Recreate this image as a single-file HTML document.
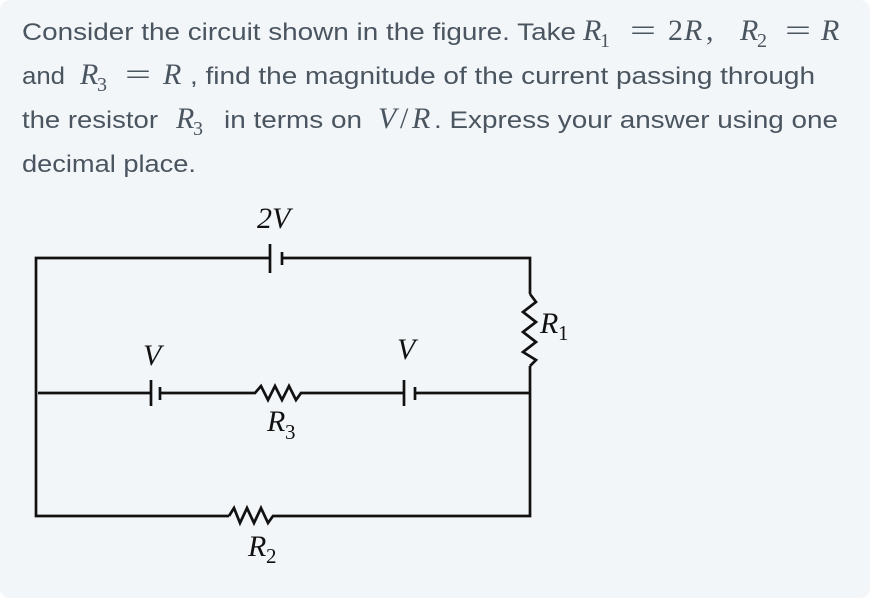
<!DOCTYPE html>
<html><head><style>
html,body{margin:0;padding:0;background:#fff;}
svg{display:block}
.t{font-family:"Liberation Sans",sans-serif;font-size:24px;fill:#4a5560}
.m{font-family:"Liberation Serif",serif;font-size:30px;fill:#4a5560}
.i{font-style:italic}
.s{font-family:"Liberation Serif",serif;font-size:20px;fill:#4a5560}
.l{font-family:"Liberation Serif",serif;font-style:italic;font-size:30px;fill:#111}
.ls{font-family:"Liberation Serif",serif;font-size:21px;fill:#111}
</style></head><body>
<svg width="878" height="606" viewBox="0 0 878 606" xmlns="http://www.w3.org/2000/svg">
<rect x="0" y="0" width="870" height="598" rx="10" fill="#f3f6f9"/>
<text class="t" x="22" y="40" textLength="554" lengthAdjust="spacingAndGlyphs">Consider the circuit shown in the figure. Take</text>
<text class="m i" x="583" y="40">R</text><text class="s" x="600" y="47">1</text>
<text class="m" x="630" y="40" textLength="26" lengthAdjust="spacingAndGlyphs">=</text>
<text class="m" x="668" y="40">2</text><text class="m i" x="684" y="40">R</text><text class="m" x="706" y="40">,</text>
<text class="m i" x="740" y="40">R</text><text class="s" x="757" y="47">2</text>
<text class="m" x="785" y="40" textLength="26" lengthAdjust="spacingAndGlyphs">=</text>
<text class="m i" x="821" y="40">R</text>

<text class="t" x="22" y="84" textLength="43" lengthAdjust="spacingAndGlyphs">and</text>
<text class="m i" x="80" y="84">R</text><text class="s" x="97" y="91">3</text>
<text class="m" x="125" y="84" textLength="26" lengthAdjust="spacingAndGlyphs">=</text>
<text class="m i" x="163" y="84">R</text>
<text class="t" x="190" y="84" textLength="625" lengthAdjust="spacingAndGlyphs">, find the magnitude of the current passing through</text>

<text class="t" x="22" y="128" textLength="136" lengthAdjust="spacingAndGlyphs">the resistor</text>
<text class="m i" x="176" y="128">R</text><text class="s" x="193" y="135">3</text>
<text class="t" x="224" y="128" textLength="138" lengthAdjust="spacingAndGlyphs">in terms on</text>
<text class="m i" x="378" y="128">V</text><text class="m" x="400" y="128">/</text><text class="m i" x="412" y="128">R</text>
<text class="t" x="434" y="128" textLength="404" lengthAdjust="spacingAndGlyphs">. Express your answer using one</text>
<text class="t" x="22" y="172" textLength="174" lengthAdjust="spacingAndGlyphs">decimal place.</text>

<g stroke="#111" stroke-width="2.7" fill="none">
<polyline points="270,258 36,258 36,516 229,516"/>
<polyline points="282,258 530,258 530,294"/>
<polyline points="530,366 530,516 288,516"/>
<polyline points="530,294 536,302 523,312 536,322 523,332 536,342 523,352 536,360 530,366"/>
<polyline points="229,516 234,508 240,523 247,508 254,523 261,508 268,523 273,516 288,516"/>
<polyline points="38,393 151,393"/>
<polyline points="160,393 255,393 261,386 268,400 275,386 282,400 289,386 296,400 301,393 404,393"/>
<polyline points="415,393 530,393"/>
<line x1="270" y1="244" x2="270" y2="273"/>
<line x1="282" y1="252" x2="282" y2="265"/>
<line x1="151" y1="380" x2="151" y2="406"/>
<line x1="160" y1="387" x2="160" y2="400"/>
<line x1="404" y1="380" x2="404" y2="406"/>
<line x1="415" y1="387" x2="415" y2="400"/>
</g>
<text class="l" x="257" y="228" font-style="normal">2<tspan font-style="italic">V</tspan></text>
<text class="l" x="540" y="333">R</text><text class="ls" x="558" y="340">1</text>
<text class="l" x="143" y="365">V</text>
<text class="l" x="397" y="359">V</text>
<text class="l" x="267" y="431">R</text><text class="ls" x="285" y="439">3</text>
<text class="l" x="248" y="556">R</text><text class="ls" x="266" y="563">2</text>
</svg>
</body></html>
